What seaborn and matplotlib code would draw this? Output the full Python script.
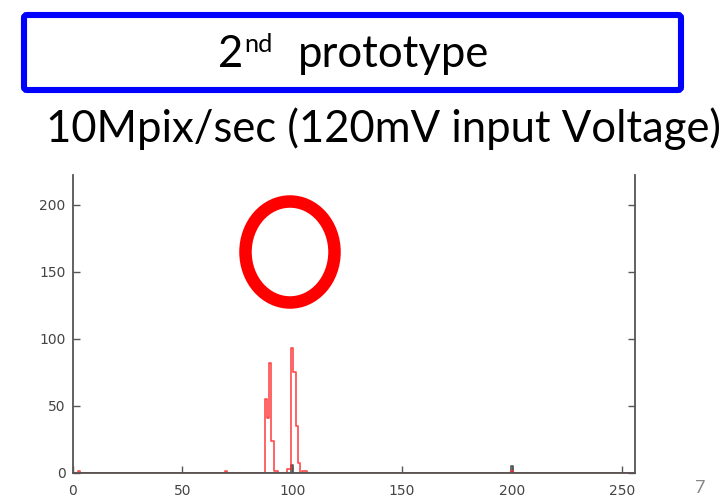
import numpy as np
import pandas as pd
import matplotlib
matplotlib.use("Agg")
import matplotlib.pyplot as plt
import seaborn as sns
from matplotlib.transforms import Affine2D
from matplotlib.patches import FancyBboxPatch, Ellipse

# ---- data ----
red_bins = [3, 70, 88, 89, 90, 91, 92, 93, 98, 99, 100, 101, 102, 103, 105, 106, 200]
red_counts = [1, 1, 55, 41, 82, 24, 1, 1, 3, 3, 93, 75, 35, 7, 1, 1, 1]
gray_bins = [100, 200]
gray_counts = [6, 5]
x_ticks = [0, 50, 100, 150, 200, 250]
y_ticks = [0, 50, 100, 150, 200]
title_main = "prototype"
title_num = "2"
title_sup = "nd"
subtitle = "10Mpix/sec (120mV input Voltage)"
page_num = "7"

n_bins = 256
all_bins = np.arange(n_bins)
red_full = np.zeros(n_bins)
red_full[red_bins] = red_counts
gray_full = np.zeros(n_bins)
gray_full[gray_bins] = gray_counts
df_red = pd.DataFrame({"bin": all_bins, "count": red_full})
df_gray = pd.DataFrame({"bin": all_bins, "count": gray_full})

sns.set_style("ticks")
plt.rcParams["font.family"] = ["DejaVu Sans"]

W, H = 726, 497
fig = plt.figure(figsize=(W / 100, H / 100), dpi=100)
px = Affine2D().scale(1 / W, -1 / H).translate(0, 1) + fig.transFigure

# ---- axes ----
left, right, bottom, top = 72.5, 635.0, 472.7, 175.0
ax = fig.add_axes([left / W, (H - bottom) / H, (right - left) / W, (bottom - top) / H])
sns.lineplot(data=df_gray, x="bin", y="count", ax=ax, drawstyle="steps-mid",
             color="#555555", lw=1.2, estimator=None, legend=False, zorder=1)
sns.lineplot(data=df_red, x="bin", y="count", ax=ax, drawstyle="steps-mid",
             color="#ff2a2a", lw=1.2, alpha=0.85, estimator=None, legend=False, zorder=1)
ax.set_xlim(0, 256)
ax.set_ylim(0, (bottom - top) / 1.34)
ax.set_xticks(x_ticks)
ax.set_yticks(y_ticks)
ax.set_xlabel("")
ax.set_ylabel("")
for s in ["left", "right", "bottom"]:
    ax.spines[s].set_visible(True)
    ax.spines[s].set_color("#555555")
    ax.spines[s].set_linewidth(1.3)
    ax.spines[s].set_zorder(5)
ax.spines["top"].set_visible(False)
ax.tick_params(axis="both", direction="in", length=5, width=1.0, color="#555555",
               labelcolor="#444444", labelsize=10)
ax.tick_params(axis="y", right=True, pad=5)
ax.tick_params(axis="x", pad=8)
ax.patch.set_alpha(0)

# ---- annotations ----
fig.patches.append(FancyBboxPatch((24, 15), 657, 75, boxstyle="round,pad=0,rounding_size=3",
                                  transform=px, fill=False, ec="#0000ff", lw=4.4))
fig.patches.append(Ellipse((290, 252), 89, 101, transform=px, fill=False, ec="#ff0000", lw=9))

fig.canvas.draw()
renderer = fig.canvas.get_renderer()
FONT = "Lato"


def fit_text(s, x, y, target_w, size, **kw):
    t = fig.text(x, y, s, transform=px, fontsize=size, family=FONT, va="baseline",
                 color="black", **kw)
    for _ in range(2):
        w = t.get_window_extent(renderer).width
        size = size * target_w / w
        t.set_fontsize(size)
    return t


t_proto = fit_text(title_main, 298, 67, 191, 30)
fs = t_proto.get_fontsize()
t2 = fig.text(218, 67, title_num, transform=px, fontsize=fs, family=FONT, va="baseline",
              color="black")
w2 = t2.get_window_extent(renderer).width
fig.text(218 + w2 + 1, 52, title_sup, transform=px, fontsize=fs * 0.58, family=FONT,
         va="baseline", color="black")

fit_text(subtitle, 46, 142, 674, 27)

fig.text(695, 496, page_num, transform=px, fontsize=13, family=FONT, color="#888888",
         va="bottom")

fig.savefig("out.png", dpi=100)
